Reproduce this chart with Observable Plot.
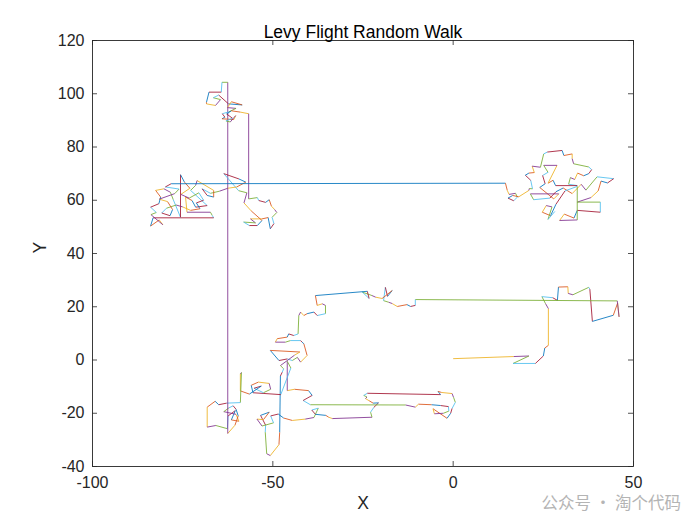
<!DOCTYPE html>
<html><head><meta charset="utf-8">
<script src="https://cdn.jsdelivr.net/npm/d3@7"></script>
<script src="https://cdn.jsdelivr.net/npm/@observablehq/plot@0.6"></script>
<style>body{margin:0;background:#fff}</style>
</head><body><div id="chart"></div>
<script>
// Random-walk vertices (X, Y), in plotting order
const walkPoints = [
[0,0.5],[16.8,1.3],[21,1.5],[16.6,-1.3],[22.8,-1.3],[25,1.5],[25.4,4.5],[26.4,5.5],[26.4,19.3],[25.6,21.2],
[24.6,23.8],[27.6,23.4],[28.9,22.4],[29.2,27.4],[31.8,27.5],[31.9,25],[33.2,24.5],[37.6,27.3],[37.9,26.6],[38.6,14.5],
[44.4,16.8],[45.6,21.4],[46,16.2],[45.5,22.2],[-10.5,22.7],
[-10.5,20.5],[-11.8,20.1],[-12.8,20.8],[-15.5,20.1],[-16.9,21.2],[-17.9,21.7],[-19.3,22.3],[-18.8,27.3],[-18.2,23.9],[-16.9,26.1],
[-19.7,23.1],[-21.5,23.6],[-22.5,24.2],[-25.2,25.5],[-23.3,23.1],[-23.8,25.8],[-38.2,24.2],
[-37.7,20.5],[-36.3,21.1],[-35.4,20.5],[-35.4,17.4],[-37.7,16.7],[-38.6,18],[-40.5,17.4],[-41.4,16.7],[-42.3,18],[-42.8,16.7],
[-43,9.8],[-44.2,9.2],[-45.6,9.8],[-46,8.6],[-48.8,8],[-49.3,6.7],[-46.5,6.7],[-45.1,7.3],[-42.3,7.3],[-41.9,6.7],
[-41.4,6.1],[-40.5,1.7],[-42.3,-0.8],[-43.2,1],[-44.6,-0.2],[-46,0.4],[-48.3,-0.2],[-50.7,3.6],[-42.5,3],[-44,1.8],
[-47.9,-2.1],[-47,-3.3],[-47.4,-4.6],[-47.9,-6],[-48.1,-27.2],[-48.3,-31.8],[-50.7,-35.9],[-51.7,-35.2],[-52.1,-27.1],[-52,-24.5],
[-53.4,-20.8],[-51,-19.6],[-52.6,-22.4],[-54.4,-22.2],[-53,-24.8],[-49.8,-23.6],[-50.6,-21],[-48.5,-20.3],[-47,-21.8],[-44.6,-22.7],
[-41,-22.2],[-38.6,-21.6],[-37.4,-18.1],[-39.2,-18.8],[-38.2,-20.4],[-35.3,-20.8],[-34.5,-21.5],[-33.5,-22],[-22.5,-21.5],[-22.9,-19.6],
[-22,-17.8],[-20.7,-16.1],[-22.2,-16.2],[-23.3,-15.3],[-24.3,-14.5],[-23.9,-13.9],[-24.8,-13.3],[-23.8,-12.5],[-3.5,-13],[-4.2,-11.8],
[-3.2,-12.2],[-0.3,-12.6],[0.1,-14],[0.6,-15.9],[-0.3,-18.2],[-0.7,-20],[-1.7,-21.9],[-5.6,-18.3],[-5.2,-20.2],[-2.7,-20],
[-1.2,-19.2],[-1.3,-17.5],[-3.5,-17.1],[-6,-16.8],[-9.6,-16.6],[-10.5,-17.7],[-13.2,-16.9],[-39.6,-16.8],[-41.6,-15.2],[-39.1,-13.3],
[-40.1,-11.5],[-44,-11],[-46,-11.5],[-46,-0.5],[-45,-3],[-47.8,-13],[-55.5,-12.3],[-56,-9.5],[-54,-8.3],[-51,-8.8],
[-50.6,-11],[-52.6,-12.3],[-55.2,-10.6],[-53.2,-9.8],[-56.5,-12.8],[-59,-11.6],[-59,-5.2],[-58.7,-4.7],[-59,-16],[-62.8,-16.2],
[-65,-16.8],[-66,-15.5],[-68.2,-17.7],[-68.2,-25.2],[-65.8,-24.6],[-62.6,-25.8],[-62.4,-21],[-60.4,-19],[-61.5,-22.5],[-59.4,-23],
[-60.2,-20.4],[-63.6,-19.4],[-62.2,-18],[-61,-17.2],[-60.2,-18.5],[-59.6,-21],[-60.5,-24.5],[-62.5,-27.6],[-62.5,104.3],
[-64.1,104.3],[-64.3,100.6],[-67.7,100.6],[-68.4,96.8],[-68.4,96.2],[-65.9,95.6],[-64.5,97.8],[-66.5,98.5],[-65,99.5],[-62.3,96.2],
[-58.5,95.8],[-61.5,97],[-62.6,94.8],[-60.2,94.5],[-62.2,93.2],[-64,92.5],[-63.3,91.2],[-64.1,90.6],[-60.8,90.3],[-60.3,91.8],
[-61.8,89.4],[-63,89.8],[-61.2,90.8],[-62.8,92.4],[-61.5,93.6],[-59,93.1],[-56.7,92.5],[-56.7,60.5],
[-54.3,61],[-53.9,59.9],[-52,59.2],[-51,60.2],[-50.4,57.8],[-49.5,56.5],[-48.9,55.4],[-50.2,53.6],[-49.7,51.2],[-50.7,49.3],
[-51.3,53.5],[-53,53],[-56.2,53],[-54.8,51.5],[-58.1,51.8],[-56.5,50.5],[-54.3,50.5],[-53,52.4],[-56,56],[-58,59],
[-57.2,62.8],[-59.5,63.6],[-63.6,70],[-59.4,68],[-57.5,66.8],[-60,65],[-62.5,64.5],[-64.8,63.4],[-67.3,62.6],
[-69.6,64.3],[-68.2,61.8],[-66.4,61.2],[-66.4,63.7],[-71,67.4],[-71.4,65.6],[-72.8,63.7],[-68.2,58],[-71.4,57.4],[-72.4,59.9],
[-74.2,61.2],[-73.8,55.5],[-67.3,55.5],[-66.8,54.3],[-66.4,53.4],[-83.2,53.4],
[-83.9,50.3],[-81.5,52.6],[-80.5,50.8],[-83.8,54.6],[-82.3,55.4],[-83.9,57.4],[-81.6,58.7],[-81.1,61.2],[-82.5,63.7],[-80.2,64.3],
[-78.4,63],[-77.6,60.2],[-75.6,53.6],[-75.6,69.6],
[-74.5,66.8],[-73,64.5],[-75.5,62.2],[-73.2,60.8],[-70.5,62.8],[-69.2,60],[-71.2,59],[-70.2,56.8],[-72.8,56.2],[-75,57.5],
[-76.8,58.2],[-79.5,57],[-80.8,55.2],[-78.5,54.2],[-77.8,56.5],[-79.2,59.5],[-81.5,60.4],[-77.2,62.5],[-76,64.2],[-79.8,65],
[-78.2,66.2],[14.5,66.4],
[15,63.7],[15.5,62.2],[17.3,62.6],[17.8,61.2],[16.8,59.8],[15.2,60.8],[16.5,61.8],[18.2,61.3],[21,63.7],[21.1,64.4],
[22,64.3],[21.5,67.5],[20,69.4],[21,70.2],[22.5,70.4],[21.9,72.8],[24.2,72.4],[25.1,77.4],[26.1,78.1],[30.2,78.7],
[30.7,76.8],[33,77.4],[33,75.6],[33.4,73.7],[37.6,72.5],[38.4,71.5],[37.6,70],[36.2,69.2],[34.5,70.2],[33.7,67.8],
[32.5,68.5],[32,66],[34.4,65.5],[28.4,65.5],[27.7,67.5],[26.3,66.4],[28.8,73.1],[25.1,73.1],[26.3,70.5],[24.8,69.3],
[25.5,66.2],[24,64.8],[27.9,60.5],[29.3,62.4],[21.4,62.4],[22.3,60.2],[26.8,60.8],[28.5,63.2],[30.5,64.6],[33,62.5],
[35.5,66],[36.8,63.8],[39.9,68.8],[44.5,68.1],[42.8,66.5],[41,67.2],[40.2,63.5],[38.2,61],[34.4,59.3],[40.8,59.3],
[40.8,55.5],[34.4,56.2],[33.5,53.3],[30.8,54.8],[29.5,52.4],[34.4,52.6],[34.4,65.2],[31,63.5],[28.5,58.5],[27,54.2],
[24.7,55.5],[25.8,58],[27.4,57.5],[26.3,52.8],[28.2,55.8]
];
const colorOrder = ["#0072BD","#D95319","#EDB120","#7E2F8E","#77AC30","#4DBEEE","#A2142F"];
const xTicks = [-100,-50,0,50];
const yTicks = [-40,-20,0,20,40,60,80,100,120];
const titleText = "Levy Flight Random Walk";
const xLabelText = "X";
const yLabelText = "Y";
const watermarkText = "公众号 · 淘个代码";

const segments = d3.pairs(walkPoints).map(([a, b], i) => ({
  x1: a[0], y1: a[1], x2: b[0], y2: b[1], c: colorOrder[(i + 2) % colorOrder.length]
}));

const W = 700, H = 525, mL = 92, mR = 67, mT = 40, mB = 59;
const fw = W - mL - mR, fh = H - mT - mB, tick = 5;
const axisColor = "#262626";

const chart = Plot.plot({
  width: W, height: H,
  marginLeft: mL, marginRight: mR, marginTop: mT, marginBottom: mB,
  style: {fontFamily: "'Liberation Sans', Arial, sans-serif", fontSize: "16px", color: axisColor, background: "#fff"},
  x: {domain: [-100, 50], ticks: xTicks, tickSize: 0, tickPadding: 10, tickFormat: d => String(d), label: null},
  y: {domain: [-40, 120], ticks: yTicks, tickSize: 0, tickPadding: 8, tickFormat: d => String(d), label: null},
  color: {type: "identity"},
  marks: [
    Plot.link(segments, {x1: "x1", y1: "y1", x2: "x2", y2: "y2", stroke: "c", strokeWidth: 0.85}),
    Plot.ruleX(xTicks, {x: d => d, insetTop: fh - tick, stroke: axisColor, strokeWidth: 0.8}),
    Plot.ruleX(xTicks, {x: d => d, insetBottom: fh - tick, stroke: axisColor, strokeWidth: 0.8}),
    Plot.ruleY(yTicks, {y: d => d, insetRight: fw - tick, stroke: axisColor, strokeWidth: 0.8}),
    Plot.ruleY(yTicks, {y: d => d, insetLeft: fw - tick, stroke: axisColor, strokeWidth: 0.8}),
    Plot.frame({stroke: axisColor, strokeWidth: 0.9}),
    Plot.text([titleText], {frameAnchor: "top", dy: -15, fontSize: 17.5, fill: "#000"}),
    Plot.text([xLabelText], {frameAnchor: "bottom", dy: 42, fontSize: 17.5, fill: axisColor}),
    Plot.text([yLabelText], {frameAnchor: "left", dx: -52, rotate: -90, fontSize: 17.5, fill: axisColor}),
    Plot.text([watermarkText], {frameAnchor: "bottom-right", dx: -92, dy: 42, textAnchor: "start", fontSize: 16.5,
      fontFamily: "'Noto Sans CJK SC', sans-serif", fill: "#b4b4b4"})
  ]
});
document.getElementById("chart").appendChild(chart);
</script>
</body></html>
